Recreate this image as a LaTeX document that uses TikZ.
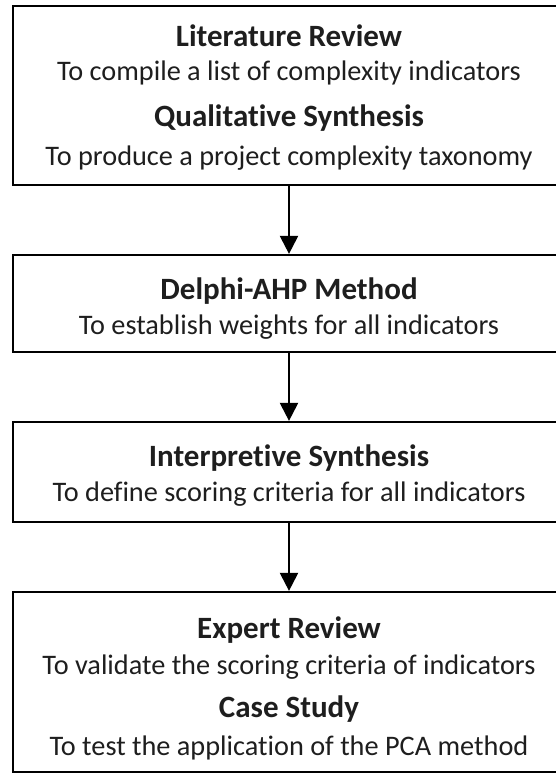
\documentclass[tikz,border=0pt]{standalone}
\usepackage{fontspec}
\setmainfont{Carlito}[Ligatures=NoCommon]
\usetikzlibrary{arrows.meta}
\definecolor{txt}{HTML}{1E1E1E}
\tikzset{
  box/.style={draw=black, line width=2.2pt, rectangle, minimum width=552pt, inner sep=0pt},
  ttl/.style={font=\fontsize{31}{33}\selectfont\bfseries, text=txt, inner sep=0pt, anchor=base},
  sub/.style={font=\fontsize{28.3}{30}\selectfont, text=txt, inner sep=0pt, anchor=base},
  flow/.style={draw=black, line width=2.2pt, -{Triangle[width=18pt,length=18pt]}}
}
\begin{document}
\begin{tikzpicture}[x=1pt,y=1pt]
\useasboundingbox (0,0) rectangle (555,774);
\node[box, minimum height=179pt] (b1) at (289,678.5) {};
\node[box, minimum height=97pt] (b2) at (289,470.5) {};
\node[box, minimum height=100pt] (b3) at (289,302) {};
\node[box, minimum height=180pt] (b4) at (289,92) {};
\node[ttl] (t1) at (289,727) {Literature Review};
\node[sub] (s1) at (289,693) {To compile a list of complexity indicators};
\node[ttl] (t2) at (289,647) {Qualitative Synthesis};
\node[sub] (s2) at (289,608) {To produce a project complexity taxonomy};
\node[ttl] (t3) at (289,474) {Delphi-AHP Method};
\node[sub] (s3) at (289,439) {To establish weights for all indicators};
\node[ttl] (t4) at (289,307) {Interpretive Synthesis};
\node[sub] (s4) at (289,272) {To define scoring criteria for all indicators};
\node[ttl] (t5) at (289,135) {Expert Review};
\node[sub] (s5) at (289,99) {To validate the scoring criteria of indicators};
\node[ttl] (t6) at (289,56) {Case Study};
\node[sub] (s6) at (289,19) {To test the application of the PCA method};
\draw[flow] (b1.south) -- (b2.north);
\draw[flow] (b2.south) -- (b3.north);
\draw[flow] (b3.south) -- (b4.north);
\end{tikzpicture}
\end{document}
